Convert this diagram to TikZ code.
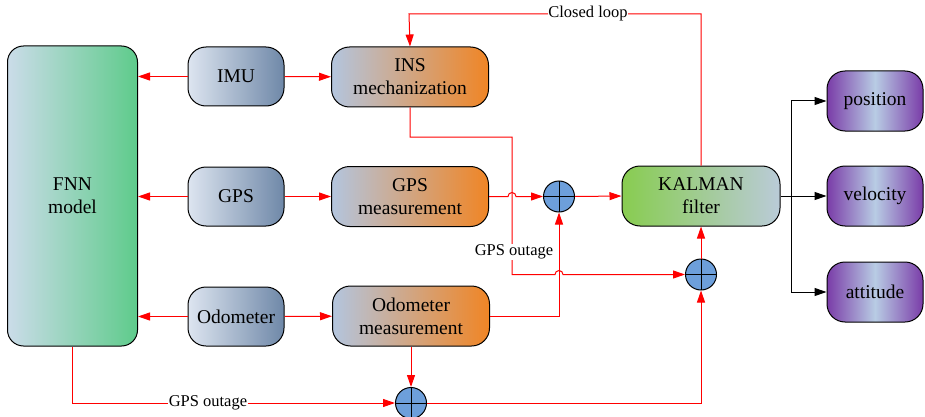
\documentclass[tikz,border=0pt]{standalone}
\usepackage{fontspec}
\setmainfont{Liberation Serif}
\usetikzlibrary{arrows.meta}
\definecolor{sensorl}{HTML}{DDE5F0}
\definecolor{sensorr}{HTML}{6F88A8}
\definecolor{fnnl}{HTML}{CBDCE9}
\definecolor{fnnr}{HTML}{5ECB8B}
\definecolor{measl}{HTML}{B3C5DE}
\definecolor{measr}{HTML}{F08525}
\definecolor{kfl}{HTML}{88CC50}
\definecolor{kfr}{HTML}{BACBD8}
\definecolor{outer}{HTML}{7A3CA8}
\definecolor{outmid}{HTML}{B8CCE4}
\definecolor{sumblue}{HTML}{6D9FDB}

\begin{document}
\begin{tikzpicture}[x=1pt,y=1pt,
	box/.style={draw,line width=1pt,rounded corners=18pt,align=center,inner sep=0pt,font=\fontsize{19.5}{23}\selectfont},
	sensor/.style={box,minimum width=96pt,minimum height=59pt,left color=sensorl,right color=sensorr},
	meas/.style={box,minimum width=157pt,minimum height=60pt,left color=measl,right color=measr},
	outbox/.style={box,minimum width=96pt,minimum height=60pt,left color=outer,right color=outer,middle color=outmid},
	sum/.style={circle,draw,line width=1pt,fill=sumblue,minimum size=31pt,inner sep=0pt,
		path picture={\draw[line width=1pt] (path picture bounding box.north) -- (path picture bounding box.south)
			(path picture bounding box.west) -- (path picture bounding box.east);}},
	rline/.style={red,line width=1pt},
	rarrow/.style={rline,-{Triangle[length=12pt,width=8pt]}},
	karrow/.style={black,line width=1pt,-{Triangle[length=12pt,width=8pt]}},
	lbl/.style={fill=white,text=black,inner sep=1pt,font=\fontsize{16.5}{18}\selectfont}]
	\useasboundingbox (0,0) rectangle (925,-417);

	\node[box,minimum width=130pt,minimum height=300pt,rounded corners=16pt,left color=fnnl,right color=fnnr] (fnn) at (72.5,-196) {FNN\\model};
	\node[sensor] (imu) at (236,-76.5) {IMU};
	\node[sensor] (gps) at (236,-196.5) {GPS};
	\node[sensor] (odo) at (236,-316.5) {Odometer};

	\node[meas] (ins) at (410,-77) {INS\\mechanization};
	\node[meas] (gpsmeas) at (410,-196.5) {GPS\\measurement};
	\node[meas] (odomeas) at (411,-316) {Odometer\\measurement};

	\node[box,minimum width=158pt,minimum height=60pt,left color=kfl,right color=kfr] (kf) at (701,-196) {KALMAN\\filter};

	\node[sum] (sum1) at (559,-196.5) {};
	\node[sum] (sum2) at (701,-274.5) {};
	\node[sum] (sum3) at (411,-403) {};

	\node[outbox] (pos) at (875,-101) {position};
	\node[outbox] (vel) at (875,-196) {velocity};
	\node[outbox] (att) at (875,-292) {attitude};

	% sensors to FNN and to the measurement blocks
	\draw[rarrow] (imu.west) -- (imu.west -| fnn.east);
	\draw[rarrow] (gps.west) -- (gps.west -| fnn.east);
	\draw[rarrow] (odo.west) -- (odo.west -| fnn.east);
	\draw[rarrow] (imu) -- (ins);
	\draw[rarrow] (gps) -- (gpsmeas);
	\draw[rarrow] (odo) -- (odomeas);

	% INS output, GPS outage branch
	\coordinate (insturn) at (512,-137);
	\draw[rarrow] (ins.south) |- (insturn) -- (512,-274.5) -- (555,-274.5) arc (180:0:4) -- (sum2.west);
	\node[lbl] (outage1) at (514,-252) {GPS outage};
	\draw[rarrow] (gpsmeas.east) -- (508,-196.5) arc (180:0:4) -- (sum1.west);
	\draw[rarrow] (odomeas.east) -| (sum1.south);
	\draw[rarrow] (odomeas.south) -- (sum3.north);
	\draw[rarrow] (fnn.south) |- node[lbl,pos=0.71] (outage2) {GPS outage} (sum3.west);
	\draw[rarrow] (sum3.east) -| (sum2.south);
	\draw[rarrow] (sum2.north) -- (kf.south);
	\draw[rarrow] (sum1.east) -- (kf.west);

	% closed loop back to the INS
	\coordinate (loopr) at (701,-14);
	\coordinate (loopl) at (409,-14);
	\draw[rarrow] (kf.north) -- (loopr) -- node[lbl,pos=0.387,inner sep=0pt] (loop) {Closed loop} (loopl) -- (ins.north);

	% filter outputs
	\coordinate (split) at (791,-196);
	\draw[karrow] (kf.east) -- (vel.west);
	\draw[karrow] (split) |- (pos.west);
	\draw[karrow] (split) |- (att.west);
\end{tikzpicture}
\end{document}
